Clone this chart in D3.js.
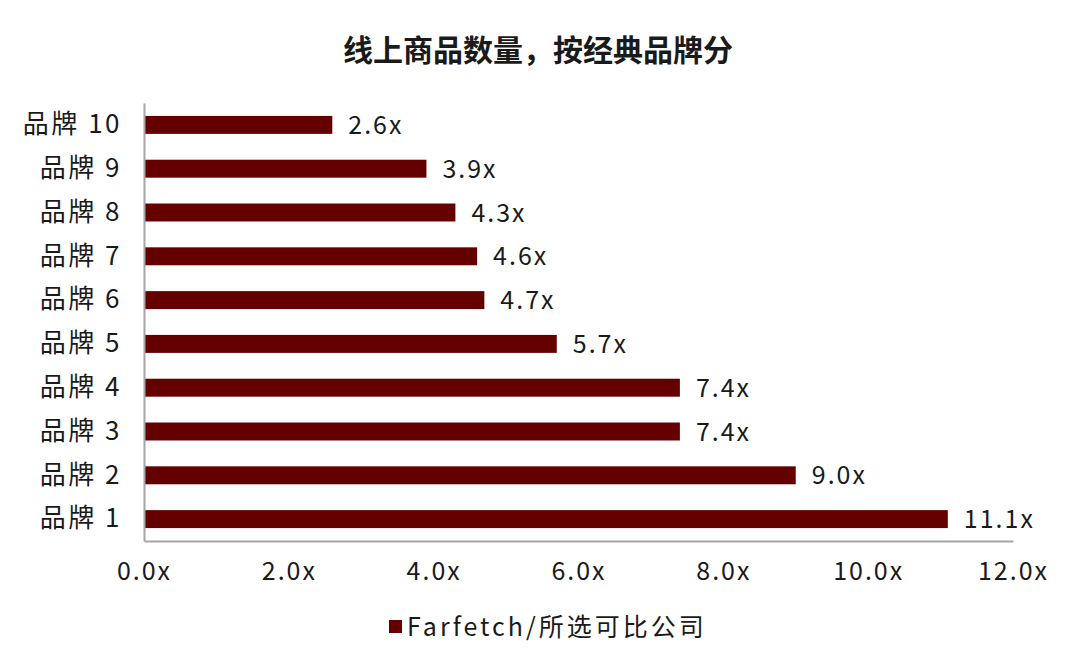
<!DOCTYPE html>
<html>
<head>
<meta charset="utf-8">
<script src="https://cdn.jsdelivr.net/npm/d3@7"></script>
<style>
  body { margin: 0; background: #fff; }
  svg text { font-family: "Noto Sans CJK SC", "Noto Sans", sans-serif; fill: #1a1a1a; }
</style>
</head>
<body>
<div id="chart"></div>
<script>
// datos
const brands = ["品牌 10", "品牌 9", "品牌 8", "品牌 7", "品牌 6", "品牌 5", "品牌 4", "品牌 3", "品牌 2", "品牌 1"];
const values = [2.6, 3.9, 4.3, 4.6, 4.7, 5.7, 7.4, 7.4, 9.0, 11.1];
const xTicks = [0, 2, 4, 6, 8, 10, 12];
const seriesName = "Farfetch/所选可比公司";
const title = "线上商品数量，按经典品牌分";

const width = 1080, height = 660;
const barColor = "#650000";

const svg = d3.select("#chart").append("svg")
    .attr("width", width)
    .attr("height", height);

const x = d3.scaleLinear().domain([0, 12]).range([144, 1013]);
const y = d3.scaleBand().domain(brands).range([103, 541])
    .paddingInner(0.59).paddingOuter(0.295);

// título
svg.append("text")
    .attr("x", 538)
    .attr("y", 61)
    .attr("text-anchor", "middle")
    .attr("font-size", "30px")
    .attr("font-weight", "bold")
    .text(title);

// barras
svg.selectAll("rect.bar")
    .data(values)
    .enter()
    .append("rect")
    .attr("class", "bar")
    .attr("x", x(0) + 1)
    .attr("y", (d, i) => y(brands[i]))
    .attr("width", d => x(d) - x(0) - 1)
    .attr("height", y.bandwidth())
    .attr("fill", barColor);

// etiquetas de valor
svg.selectAll("text.val")
    .data(values)
    .enter()
    .append("text")
    .attr("class", "val")
    .attr("x", d => x(d) + 16)
    .attr("y", (d, i) => y(brands[i]) + y.bandwidth() / 2)
    .attr("dy", "0.36em")
    .attr("font-size", "25px")
    .attr("letter-spacing", "2px")
    .text(d => d.toFixed(1) + "x");

// eje x
const xAxis = svg.append("g")
    .attr("transform", "translate(0,541)")
    .call(d3.axisBottom(x).tickValues(xTicks).tickSize(0).tickPadding(21)
        .tickFormat(d => d.toFixed(1) + "x"));
xAxis.select(".domain").attr("stroke", "#a6a6a6").attr("stroke-width", 2);
xAxis.selectAll("text")
    .attr("font-size", "25px")
    .attr("letter-spacing", "2px")
    .attr("fill", "#1a1a1a");

// eje y
const yAxis = svg.append("g")
    .attr("transform", "translate(144,0)")
    .call(d3.axisLeft(y).tickSize(0).tickPadding(22));
yAxis.select(".domain").attr("stroke", "#a6a6a6").attr("stroke-width", 2);
yAxis.selectAll("text")
    .attr("font-size", "26px")
    .attr("letter-spacing", "2.5px")
    .attr("fill", "#1a1a1a");

// leyenda
const legend = svg.append("g").attr("transform", "translate(389,620)");
legend.append("rect")
    .attr("width", 13)
    .attr("height", 13)
    .attr("fill", barColor);
legend.append("text")
    .attr("x", 18)
    .attr("y", 16)
    .attr("font-size", "25px")
    .attr("letter-spacing", "3px")
    .text(seriesName);
</script>
</body>
</html>
